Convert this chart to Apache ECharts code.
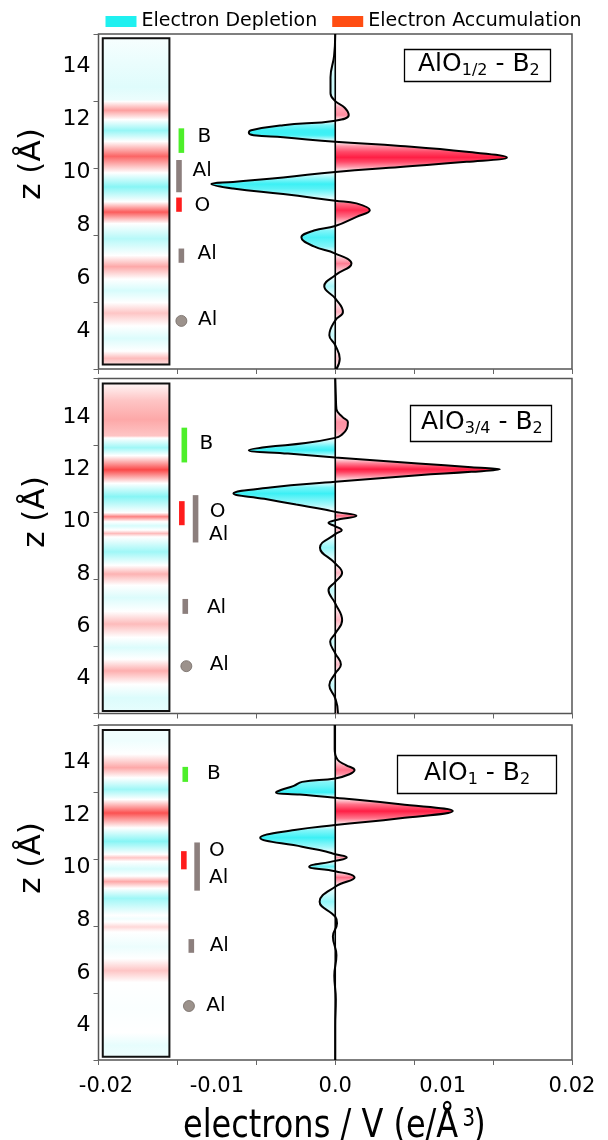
<!DOCTYPE html>
<html><head><meta charset="utf-8">
<script src="https://cdn.jsdelivr.net/npm/echarts@6/dist/echarts.min.js"></script>
<style>html,body{margin:0;padding:0;background:#fff}#c{width:608px;height:1140px}</style>
</head><body><div id="c"></div>
<script>
// ================= DATA =================
const X_TICK_LABELS = [-0.02, -0.01, 0, 0.01, 0.02];
const Y_TICK_LABELS = [4, 6, 8, 10, 12, 14];
const LEGEND_NAMES = ['Electron Depletion', 'Electron Accumulation'];
const PANEL_TITLES = [['AlO', '1/2', ' - B', '2'], ['AlO', '3/4', ' - B', '2'], ['AlO', '1', ' - B', '2']];

// z axis extents of each panel (Å)
const Z_RANGE_1 = [2.56, 15.24];
const Z_RANGE_2 = [2.66, 15.47];
const Z_RANGE_3 = [2.70, 15.42];

// planar-averaged charge difference curves: z (Å) and electrons / V
const P1_Z = [15.24, 14.4, 13.6, 13.0, 12.7, 12.45, 12.17, 11.96, 11.79, 11.6, 11.5, 11.41, 11.33, 11.16, 11.0, 10.78, 10.57, 10.4, 10.21, 10.02, 9.81, 9.64, 9.56, 9.39, 9.18, 8.93, 8.83, 8.57, 8.32, 7.97, 7.8, 7.54, 7.2, 6.93, 6.55, 6.11, 5.69, 5.23, 4.72, 4.40, 3.84, 3.46, 2.95, 2.56];
const P1_V = [0, -0.0001, -0.0004, -0.0004, 0, 0.0008, 0.00114, 0, -0.0044, -0.0071, -0.0073, -0.0069, -0.0044, 0, 0.0055, 0.0111, 0.0145, 0.0111, 0.0055, 0, -0.0044, -0.00864, -0.01047, -0.00864, -0.0044, 0, 0.0018, 0.00292, 0.0018, 0, -0.0018, -0.00286, -0.0018, 0, 0.00137, 0, -0.00093, 0, 0.00065, 0, -0.0005, 0, 0.00038, 0.0001];

const P2_Z = [15.47, 14.8, 14.3, 14.0, 13.81, 13.55, 13.3, 13.2, 13.0, 12.85, 12.73, 12.6, 12.45, 12.22, 12.08, 12.0, 11.9, 11.77, 11.52, 11.3, 11.07, 10.87, 10.65, 10.45, 10.37, 10.22, 10.05, 9.95, 9.82, 9.67, 9.52, 9.0, 8.40, 8.04, 7.69, 7.38, 6.87, 6.23, 5.72, 5.40, 4.96, 4.53, 4.19, 3.74, 3.24, 2.72, 2.66];
const P2_V = [0, 0.00005, 0.0001, 0.0006, 0.00107, 0.00098, 0.0005, 0, -0.0025, -0.0058, -0.0073, -0.0040, 0, 0.007, 0.0115, 0.0139, 0.0115, 0.007, 0, -0.0055, -0.0086, -0.006, -0.0033, -0.0008, 0, 0.00179, 0, -0.00057, 0, 0.00055, 0, -0.00129, 0, 0.00058, 0, -0.00057, 0, 0.00058, 0, -0.00043, 0, 0.00048, 0, -0.0005, 0, 0.00022, 0.0002];

const P3_Z = [15.42, 14.5, 14.1, 13.9, 13.71, 13.55, 13.39, 13.26, 13.11, 12.95, 12.86, 12.78, 12.66, 12.41, 12.15, 11.88, 11.62, 11.43, 11.14, 10.8, 10.62, 10.51, 10.39, 10.26, 10.04, 9.87, 9.63, 9.28, 8.71, 8.14, 7.89, 7.39, 6.68, 5.9, 5.0, 4.0, 2.70];
const P3_V = [-0.00005, -0.00005, 0.0002, 0.0009, 0.00163, 0.0012, 0, -0.0028, -0.0035, -0.0046, -0.0050, -0.003, 0, 0.0055, 0.00993, 0.0055, 0, -0.00345, -0.00634, -0.0028, -0.0008, 0, 0.00097, 0, -0.0022, 0, 0.00163, 0, -0.00132, 0, 0.00015, -0.0002, 0.0001, -0.00008, 0.00005, 0, 0];

// colour strip: z stops and signed intensity (+ accumulation, - depletion)
const P1_STRIP_Z = [15.08, 13.2, 12.72, 12.67, 12.33, 11.98, 11.57, 11.16, 10.6, 9.98, 9.45, 8.89, 8.5, 8.07, 7.5, 6.87, 6.45, 5.98, 5.55, 5.10, 4.7, 4.22, 3.75, 3.27, 3.0, 2.73];
const P1_STRIP_V = [-0.05, -0.2, -0.12, 0, 0.5, 0, -0.65, 0, 0.8, 0, -0.75, 0, 0.85, 0, -0.45, 0, 0.45, 0, -0.25, 0, 0.3, 0, -0.22, 0, 0.35, 0.15];
const P2_STRIP_Z = [15.28, 14.6, 13.87, 13.25, 13.17, 12.8, 12.5, 11.96, 11.45, 10.94, 10.33, 10.18, 9.99, 9.83, 9.67, 9.54, 9.41, 8.84, 8.33, 8.0, 7.57, 7.1, 6.58, 6.1, 5.59, 5.2, 4.76, 4.32, 3.81, 3.3, 2.76];
const P2_STRIP_V = [0.03, 0.3, 0.45, 0.3, 0, -0.6, 0, 0.95, 0, -0.75, 0, 0.65, 0, -0.25, 0, 0.35, 0, -0.6, 0, 0.4, 0, -0.22, 0, 0.35, 0, -0.22, 0, 0.42, 0, -0.22, -0.15];
const P3_STRIP_Z = [15.23, 14.8, 14.28, 13.77, 13.39, 12.95, 12.57, 12.06, 11.5, 10.99, 10.5, 10.37, 10.23, 9.95, 9.68, 9.47, 9.22, 8.84, 8.2, 8.07, 7.95, 7.76, 7.57, 7.0, 6.56, 6.11, 5.67, 4.7, 3.77, 3.3, 2.82];
const P3_STRIP_V = [-0.08, -0.1, 0, 0.45, 0, -0.6, 0, 0.9, 0, -0.75, 0, 0.3, 0, -0.25, 0, 0.45, 0, -0.6, 0, -0.08, 0, 0.2, 0, -0.12, 0, 0.3, 0, -0.03, 0, -0.15, -0.1];

// atom markers: element, z top, z bottom (equal -> point atom)
const P1_ATOM_EL = ['B', 'Al', 'O', 'Al', 'Al'];
const P1_ATOM_ZTOP = [11.67, 10.47, 9.05, 7.12, 4.38];
const P1_ATOM_ZBOT = [10.74, 9.25, 8.51, 6.58, 4.38];
const P2_ATOM_EL = ['B', 'O', 'Al', 'Al', 'Al'];
const P2_ATOM_ZTOP = [13.59, 10.78, 11.01, 7.04, 4.47];
const P2_ATOM_ZBOT = [12.26, 9.86, 9.20, 6.47, 4.47];
const P3_ATOM_EL = ['B', 'O', 'Al', 'Al', 'Al'];
const P3_ATOM_ZTOP = [13.83, 10.63, 10.96, 7.29, 4.75];
const P3_ATOM_ZBOT = [13.26, 9.94, 9.13, 6.77, 4.75];
// atom labels
const P1_LABELS = ['B', 'Al', 'O', 'Al', 'Al'];
const P1_LABEL_Z = [11.35, 10.06, 8.72, 6.93, 4.44];
const P2_LABELS = ['B', 'O', 'Al', 'Al', 'Al'];
const P2_LABEL_Z = [12.96, 10.37, 9.48, 6.71, 4.51];
const P3_LABELS = ['B', 'O', 'Al', 'Al', 'Al'];
const P3_LABEL_Z = [13.58, 10.63, 9.60, 7.04, 4.76];

// ================= LAYOUT / STYLE =================
const FONT = 'DejaVu Sans';
const LAYOUT = {
  gridTop: [34, 378.5, 725], gridH: 335, gridLeft: 98.5, gridRight: 36,
  stripX: [-0.01964, -0.01401],
  stripZ: [[15.08, 2.73], [15.28, 2.76], [15.23, 2.82]],
  atomX: [[-0.0130, -0.0132, -0.0132, -0.0130, -0.0130],
          [-0.01275, -0.01296, -0.01180, -0.01267, -0.01258],
          [-0.01267, -0.01279, -0.01167, -0.01216, -0.01236]],
  labelX: [[-0.01163, -0.01205, -0.01188, -0.01163, -0.01159],
           [-0.01146, -0.01061, -0.01067, -0.01084, -0.01061],
           [-0.01084, -0.01067, -0.01067, -0.01061, -0.01089]],
  titleBox: [{left: 404, top: 47, pad: [2, 11, 3, 14]},
             {left: 410, top: 403, pad: [4, 9, 5, 11]},
             {left: 397, top: 753, pad: [5, 27, 6, 27]}],
  yTitle: [[32, 164], [36, 512], [32, 858]],
  xTitle: {x: 183, y: 1127, scaleX: 0.82, supX: 341, supY: -7, closeX: 354}
};
const EL_COLOR = {B: '#4def2a', O: '#ff1c1c', Al: '#8c7f7d'};
const CURVE_RED = [255, 30, 68], CURVE_CYAN = [60, 240, 245];
const STRIP_RED = [250, 62, 62], STRIP_CYAN = [95, 241, 241];
const LEGEND_COLORS = ['#1ff0f0', '#ff4d12'];

const PANELS = [
  {zr: Z_RANGE_1, z: P1_Z, v: P1_V, sz: P1_STRIP_Z, sv: P1_STRIP_V, ael: P1_ATOM_EL, azt: P1_ATOM_ZTOP, azb: P1_ATOM_ZBOT, lt: P1_LABELS, lz: P1_LABEL_Z},
  {zr: Z_RANGE_2, z: P2_Z, v: P2_V, sz: P2_STRIP_Z, sv: P2_STRIP_V, ael: P2_ATOM_EL, azt: P2_ATOM_ZTOP, azb: P2_ATOM_ZBOT, lt: P2_LABELS, lz: P2_LABEL_Z},
  {zr: Z_RANGE_3, z: P3_Z, v: P3_V, sz: P3_STRIP_Z, sv: P3_STRIP_V, ael: P3_ATOM_EL, azt: P3_ATOM_ZTOP, azb: P3_ATOM_ZBOT, lt: P3_LABELS, lz: P3_LABEL_Z}
];

function mix(t, c) {
  t = Math.max(0, Math.min(1, t));
  return 'rgb(' + c.map(k => Math.round(255 + (k - 255) * t)).join(',') + ')';
}
function signedColor(s, red, cyan) { return s >= 0 ? mix(s, red) : mix(-s, cyan); }
function clamp01(x) { return Math.max(0, Math.min(1, x)); }
// fill colour of each curve row: relative position inside its lobe, scaled by lobe strength
function curveColors(v) {
  const peak = v.map(() => 0);
  let i = 0;
  while (i < v.length) {
    if (v[i] === 0) { i++; continue; }
    const s = Math.sign(v[i]);
    let j = i, m = 0;
    while (j < v.length && Math.sign(v[j]) === s) { m = Math.max(m, Math.abs(v[j])); j++; }
    for (let k = i; k < j; k++) peak[k] = m;
    i = j;
  }
  return v.map((x, k) => {
    if (x === 0) return 'rgb(255,255,255)';
    const strength = Math.min(1, Math.pow(peak[k] / 0.0032, 0.65));
    const rel = Math.pow(Math.abs(x) / peak[k], 0.8);
    return x > 0 ? mix(rel * strength, CURVE_RED) : mix(rel * strength, CURVE_CYAN);
  });
}
// x tick label: small horizontal nudges so labels sit where the reference prints them
function xLabel(v) {
  const s = Math.abs(v) < 1e-9 ? '0.0' : String(+v.toFixed(2));
  if (v < -0.015) return '{l|' + s + '}';
  if (v > 0.005 && v < 0.015) return '{r|' + s + '}';
  return '{n|' + s + '}';
}

const grids = [], xAxes = [], yAxes = [], series = [];
PANELS.forEach((P, gi) => {
  const [zmin, zmax] = P.zr;
  grids.push({left: LAYOUT.gridLeft, right: LAYOUT.gridRight, top: LAYOUT.gridTop[gi], height: LAYOUT.gridH,
    show: true, borderColor: '#555', borderWidth: 1.5, backgroundColor: '#fff', containLabel: false});
  const xt = [0, 1, 2, 3, 4, 5, 6].map(k => -0.02 + k * 0.04 / 6);
  const lblStyle = {fontSize: 21, fontFamily: FONT, color: '#000'};
  xAxes.push({type: 'value', gridIndex: gi, min: -0.02, max: 0.02, position: 'bottom',
    axisLine: {show: false}, splitLine: {show: false},
    axisTick: {show: true, inside: false, length: 5, lineStyle: {color: '#666', width: 1}, customValues: xt},
    axisLabel: {show: gi === 2, customValues: X_TICK_LABELS, margin: 16, fontSize: 21, fontFamily: FONT, color: '#000',
      formatter: xLabel,
      rich: {n: lblStyle, l: Object.assign({padding: [0, 0, 0, 15]}, lblStyle), r: Object.assign({padding: [0, 22, 0, 0]}, lblStyle)}}});
  // data axis (time-type so the vertical axis is the base axis and areas fill toward x = 0)
  yAxes.push({type: 'time', gridIndex: gi, min: zmin, max: zmax, show: false});
  const yt = [0, 1, 2, 3, 4, 5].map(k => zmin + k * (zmax - zmin) / 5);
  yAxes.push({type: 'value', gridIndex: gi, min: zmin, max: zmax, position: 'left',
    axisLine: {show: false}, splitLine: {show: false},
    axisTick: {show: true, inside: false, length: 5, lineStyle: {color: '#666', width: 1}, customValues: yt},
    axisLabel: {customValues: Y_TICK_LABELS, margin: 8, fontSize: 22, fontFamily: FONT, color: '#000'}});

  const yi = gi * 2;
  // colour strip
  const [stTop, stBot] = LAYOUT.stripZ[gi];
  series.push({type: 'custom', xAxisIndex: gi, yAxisIndex: yi, silent: true, z: 2, clip: false,
    data: [[LAYOUT.stripX[0], stTop]],
    renderItem: (params, api) => {
      const p0 = api.coord([LAYOUT.stripX[0], stTop]);
      const p1 = api.coord([LAYOUT.stripX[1], stBot]);
      const stops = P.sz.map((z, i) => ({offset: clamp01((stTop - z) / (stTop - stBot)), color: signedColor(P.sv[i], STRIP_RED, STRIP_CYAN)}));
      return {type: 'rect', shape: {x: p0[0], y: p0[1], width: p1[0] - p0[0], height: p1[1] - p0[1]},
        style: {fill: new echarts.graphic.LinearGradient(0, 0, 0, 1, stops), stroke: '#111', lineWidth: 2}};
    }});
  // atom markers
  series.push({type: 'custom', xAxisIndex: gi, yAxisIndex: yi, silent: true, z: 3, clip: false,
    data: P.ael.map((e, i) => [LAYOUT.atomX[gi][i], P.azt[i], P.azb[i]]),
    renderItem: (params, api) => {
      const i = params.dataIndex;
      const el = P.ael[i];
      const a = api.coord([LAYOUT.atomX[gi][i], P.azt[i]]);
      const b = api.coord([LAYOUT.atomX[gi][i], P.azb[i]]);
      if (P.azt[i] === P.azb[i]) {
        return {type: 'circle', shape: {cx: a[0], cy: a[1], r: 5.5}, style: {fill: '#9c928c', stroke: '#746b66', lineWidth: 0.8}};
      }
      return {type: 'rect', shape: {x: a[0] - 2.8, y: a[1], width: 5.6, height: b[1] - a[1]}, style: {fill: EL_COLOR[el]}};
    }});
  // atom labels
  series.push({type: 'custom', xAxisIndex: gi, yAxisIndex: yi, silent: true, z: 3, clip: false,
    data: P.lt.map((t, i) => [LAYOUT.labelX[gi][i], P.lz[i]]),
    renderItem: (params, api) => {
      const i = params.dataIndex;
      const p = api.coord([LAYOUT.labelX[gi][i], P.lz[i]]);
      return {type: 'text', x: p[0], y: p[1], style: {text: P.lt[i], fontSize: 20, fontFamily: FONT, fill: '#000', align: 'left', verticalAlign: 'middle'}};
    }});
  // curve with filled lobes
  const top = P.z[0], bot = P.z[P.z.length - 1];
  const cols = curveColors(P.v);
  const stops = P.z.map((z, i) => ({offset: clamp01((top - z) / (top - bot)), color: cols[i]}));
  series.push({type: 'line', xAxisIndex: gi, yAxisIndex: yi, z: 4, smooth: 0.45, symbol: 'none',
    data: P.z.map((z, i) => [P.v[i], z]),
    lineStyle: {color: '#000', width: 2},
    areaStyle: {color: new echarts.graphic.LinearGradient(0, 0, 0, 1, stops), opacity: 1}});
  // zero line
  series.push({type: 'line', xAxisIndex: gi, yAxisIndex: yi, z: 5, symbol: 'none',
    data: [[0, zmax], [0, zmin]], lineStyle: {color: '#000', width: 1.6}});
});

// legend proxies
series.push({type: 'scatter', name: LEGEND_NAMES[0], xAxisIndex: 0, yAxisIndex: 0, data: [], itemStyle: {color: LEGEND_COLORS[0], opacity: 1}});
series.push({type: 'scatter', name: LEGEND_NAMES[1], xAxisIndex: 0, yAxisIndex: 0, data: [], itemStyle: {color: LEGEND_COLORS[1], opacity: 1}});

const titles = PANEL_TITLES.map((t, i) => ({
  text: '{a|' + t[0] + '}{s|' + t[1] + '}{a|' + t[2] + '}{s|' + t[3] + '}',
  left: LAYOUT.titleBox[i].left, top: LAYOUT.titleBox[i].top,
  padding: LAYOUT.titleBox[i].pad,
  borderColor: '#000', borderWidth: 1.3, backgroundColor: '#fff',
  textStyle: {fontFamily: FONT, fontWeight: 'normal', color: '#000', rich: {
    a: {fontSize: 25, fontFamily: FONT, fontWeight: 'normal', color: '#000', lineHeight: 30},
    s: {fontSize: 16, fontFamily: FONT, fontWeight: 'normal', color: '#000', lineHeight: 14, verticalAlign: 'bottom'}
  }}
}));

const XT = LAYOUT.xTitle;
const graphics = LAYOUT.yTitle.map(p => ({type: 'text', x: p[0], y: p[1], rotation: Math.PI / 2, z: 10,
  style: {text: 'z (Å)', fontSize: 31, fontFamily: FONT, fill: '#000', align: 'center', verticalAlign: 'middle'}}));
graphics.push({type: 'group', x: XT.x, y: XT.y, scaleX: XT.scaleX, z: 10, children: [
  {type: 'text', x: 0, y: 0, style: {text: 'electrons / V (e/Å', fontSize: 39, fontFamily: FONT, fill: '#000', align: 'left', verticalAlign: 'middle'}},
  {type: 'text', x: XT.supX, y: XT.supY, style: {text: '3', fontSize: 24, fontFamily: FONT, fill: '#000', align: 'left', verticalAlign: 'middle'}},
  {type: 'text', x: XT.closeX, y: 0, style: {text: ')', fontSize: 39, fontFamily: FONT, fill: '#000', align: 'left', verticalAlign: 'middle'}}
]});

const chart = echarts.init(document.getElementById('c'), null, {renderer: 'canvas'});
chart.setOption({
  animation: false,
  backgroundColor: '#fff',
  title: titles,
  legend: {left: 105.5, top: 12, padding: 0, icon: 'rect', itemWidth: 31, itemHeight: 11, itemGap: 15, selectedMode: false,
    textStyle: {fontSize: 19, fontFamily: FONT, color: '#000'},
    data: [{name: LEGEND_NAMES[0], itemStyle: {color: LEGEND_COLORS[0], opacity: 1}},
           {name: LEGEND_NAMES[1], itemStyle: {color: LEGEND_COLORS[1], opacity: 1}}]},
  grid: grids, xAxis: xAxes, yAxis: yAxes, series: series, graphic: graphics
});
</script></body></html>
